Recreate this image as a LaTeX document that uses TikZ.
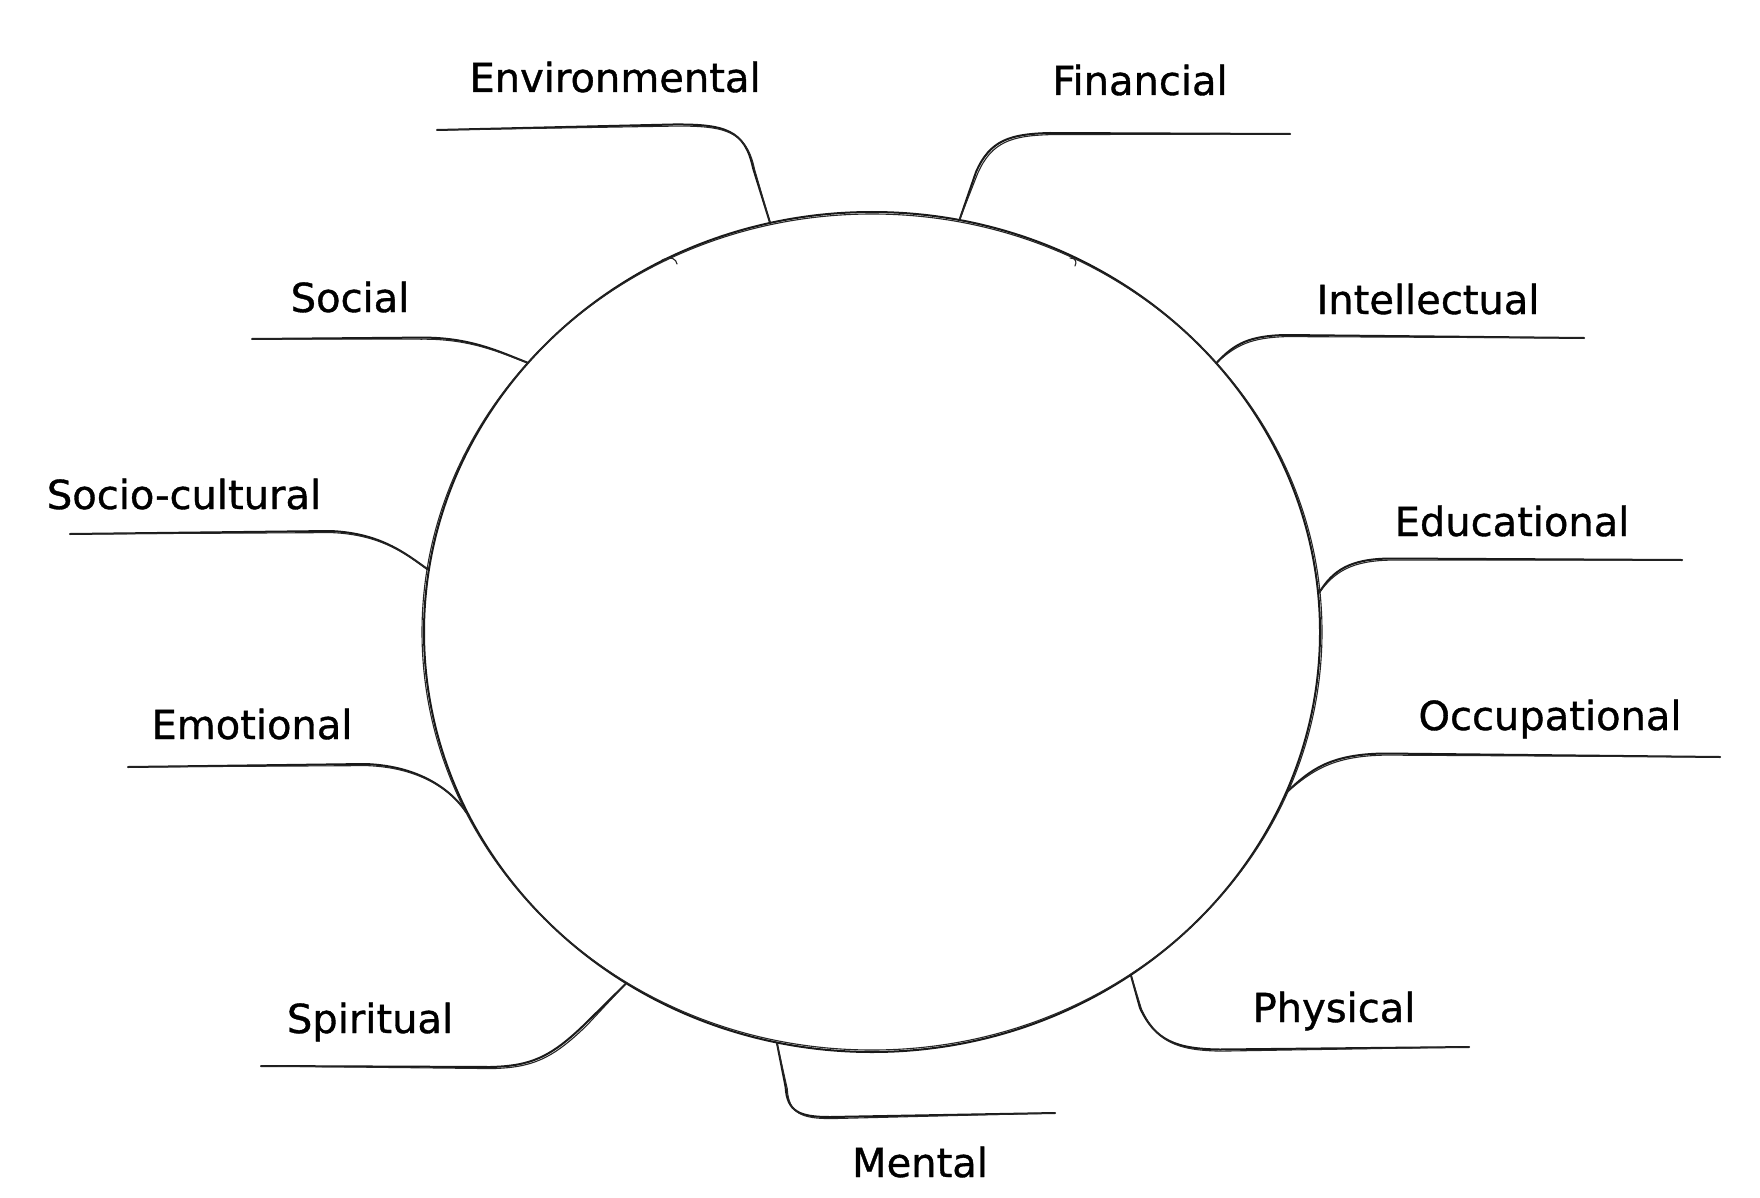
\documentclass[tikz,border=0pt]{standalone}
\usepackage{fontspec}
\setmainfont{DejaVu Sans}[FakeBold=0.9]
\usetikzlibrary{shapes.geometric}
\newcommand\skpath[1]{\draw[ln] #1; \draw[lnb, xshift=1.6pt, yshift=-1.6pt] #1;}
\begin{document}
\begin{tikzpicture}[x=1pt,y=-1pt,
  ln/.style={line width=2pt, line cap=round, line join=round, draw=black!90},
  lnb/.style={line width=1.1pt, line cap=round, line join=round, draw=black!85},
  lbl/.style={anchor=base, inner sep=0pt, font=\fontsize{40}{48}\selectfont, text=black},
  ring/.style={ellipse, draw=black!90, line width=2pt, minimum width=896pt, minimum height=840pt, inner sep=0pt}]
\useasboundingbox (0,0) rectangle (1760,1198);
\fill[white] (0,0) rectangle (1760,1198);
% central ring
\node[ring] (circ) at (872,632) {};
\draw[lnb] (circ.center) ellipse [x radius=450pt, y radius=418pt];
% small sketch hooks
\draw[lnb] (662,260) .. controls (672,256) and (676,259) .. (677,264);
\draw[lnb] (1070,258) .. controls (1076,258) and (1077,262) .. (1075,266);
% labels
\node[lbl] (tenv) at (615,92) {Environmental};
\node[lbl] (tfin) at (1140,95) {Financial};
\node[lbl] (tsoc) at (350,312) {Social};
\node[lbl] (tint) at (1428,314) {Intellectual};
\node[lbl] (tscu) at (184,509) {Socio-cultural};
\node[lbl] (tedu) at (1512,536) {Educational};
\node[lbl] (temo) at (252,739) {Emotional};
\node[lbl] (tocc) at (1550,730) {Occupational};
\node[lbl] (tspi) at (370,1033) {Spiritual};
\node[lbl] (tphy) at (1334,1022) {Physical};
\node[lbl] (tmen) at (920,1177) {Mental};
% free ends of connectors
\coordinate (eenv) at (437,130);
\coordinate (efin) at (1290,134);
\coordinate (esoc) at (252,339);
\coordinate (eint) at (1584,338);
\coordinate (escu) at (70,534);
\coordinate (eedu) at (1682,560);
\coordinate (eemo) at (128,767);
\coordinate (eocc) at (1720,757);
\coordinate (espi) at (261,1066);
\coordinate (ephy) at (1469,1047);
\coordinate (emen) at (1055,1113);
% connectors
\skpath{(circ.104.4) -- (753,168) .. controls (745,130) and (725,124) .. (673,124.5) -- (eenv)}
\skpath{(circ.78.2) -- (976,172) .. controls (990,140) and (1010,134) .. (1050,133) -- (efin)}
\skpath{(circ.142.3) .. controls (500,352) and (470,337) .. (420,337.6) -- (esoc)}
\skpath{(circ.38.1) .. controls (1235,343) and (1250,336) .. (1285,335) -- (eint)}
\skpath{(circ.172.1) .. controls (405,553) and (380,533) .. (330,531) -- (escu)}
\skpath{(circ.5.9) .. controls (1333,570) and (1350,559) .. (1390,558.5) -- (eedu)}
\skpath{(circ.204.8) .. controls (455,795) and (425,766) .. (365,764) -- (eemo)}
\skpath{(circ.-21.8) .. controls (1310,770) and (1330,754) .. (1385,753.5) -- (eocc)}
\skpath{(circ.235.4) -- (585,1024) .. controls (550,1058) and (530,1066) .. (490,1067) -- (espi)}
\skpath{(circ.-53.9) -- (1140,1008) .. controls (1155,1040) and (1175,1049) .. (1220,1049.5) -- (ephy)}
\skpath{(circ.257.9) -- (785.6,1087) .. controls (787,1112) and (800,1117) .. (830,1117) -- (emen)}
\end{tikzpicture}
\end{document}
